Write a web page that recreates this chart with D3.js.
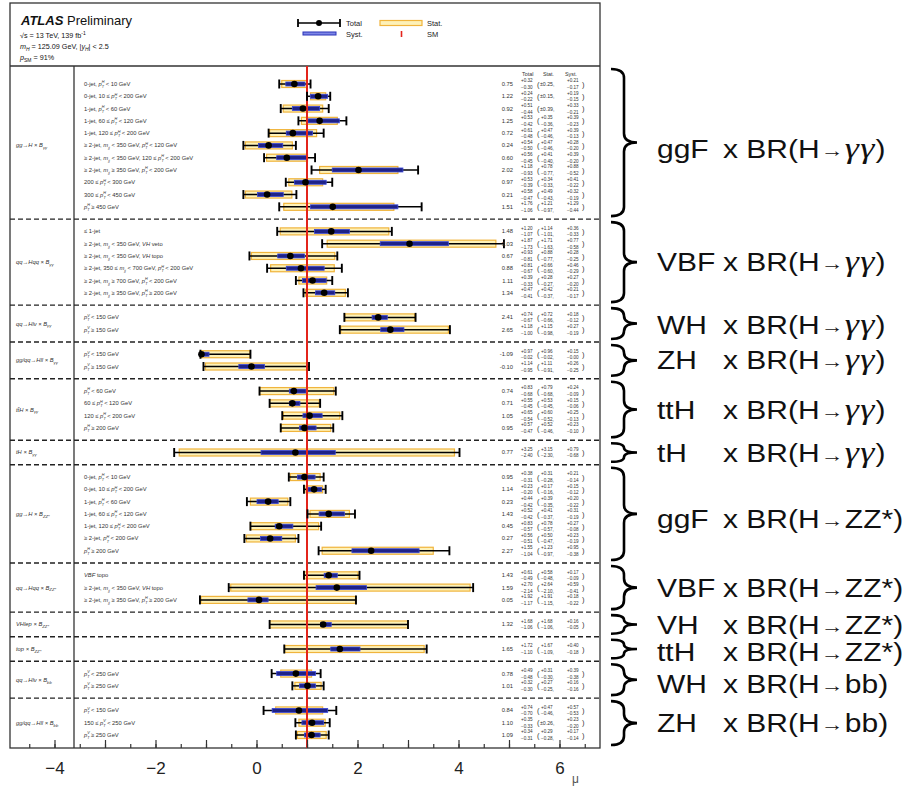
<!DOCTYPE html>
<html>
<head>
<meta charset="utf-8">
<script src="https://cdn.jsdelivr.net/npm/d3@7"></script>
<style>
body{margin:0;background:#fff;}
svg{display:block;}
</style>
</head>
<body>
<script>
// ATLAS STXS-like summary: mu per bin with total / stat / syst errors

// ---- data (right-hand column) ----
var groupSizes = [11, 6, 2, 2, 4, 1, 7, 3, 1, 1, 2, 3];
var groupProc = ["gg→H × B", "qq→Hqq × B", "qq→Hlν × B", "gg/qq→Hll × B", "tt̄H × B", "tH × B",
                 "gg→H × B", "qq→Hqq × B", "VHlep × B", "top × B", "qq→Hlν × B", "gg/qq→Hll × B"];
var groupDecay = ["γγ", "γγ", "γγ", "γγ", "γγ", "γγ", "ZZ*", "ZZ*", "ZZ*", "ZZ*", "bb̄", "bb̄"];
var braceProd = ["ggF", "VBF", "WH", "ZH", "ttH", "tH", "ggF", "VBF", "VH", "ttH", "WH", "ZH"];
var braceDecay = ["γγ", "γγ", "γγ", "γγ", "γγ", "γγ", "ZZ*", "ZZ*", "ZZ*", "ZZ*", "bb", "bb"];

var binLabels = [
  "0-jet, {pTH} < 10 GeV", "0-jet, 10 ≤ {pTH} < 200 GeV", "1-jet, {pTH} < 60 GeV",
  "1-jet, 60 ≤ {pTH} < 120 GeV", "1-jet, 120 ≤ {pTH} < 200 GeV",
  "≥ 2-jet, {mjj} < 350 GeV, {pTH} < 120 GeV", "≥ 2-jet, {mjj} < 350 GeV, 120 ≤ {pTH} < 200 GeV",
  "≥ 2-jet, {mjj} ≥ 350 GeV, {pTH} < 200 GeV", "200 ≤ {pTH} < 300 GeV", "300 ≤ {pTH} < 450 GeV",
  "{pTH} ≥ 450 GeV",
  "≤ 1-jet", "≥ 2-jet, {mjj} < 350 GeV, {VH} veto", "≥ 2-jet, {mjj} < 350 GeV, {VH} topo",
  "≥ 2-jet, 350 ≤ {mjj} < 700 GeV, {pTH} < 200 GeV", "≥ 2-jet, {mjj} ≥ 700 GeV, {pTH} < 200 GeV",
  "≥ 2-jet, {mjj} ≥ 350 GeV, {pTH} ≥ 200 GeV",
  "{pTV} < 150 GeV", "{pTV} ≥ 150 GeV",
  "{pTV} < 150 GeV", "{pTV} ≥ 150 GeV",
  "{pTH} < 60 GeV", "60 ≤ {pTH} < 120 GeV", "120 ≤ {pTH} < 200 GeV", "{pTH} ≥ 200 GeV",
  "",
  "0-jet, {pTH} < 10 GeV", "0-jet, 10 ≤ {pTH} < 200 GeV", "1-jet, {pTH} < 60 GeV",
  "1-jet, 60 ≤ {pTH} < 120 GeV", "1-jet, 120 ≤ {pTH} < 200 GeV", "≥ 2-jet, {pTH} < 200 GeV",
  "{pTH} ≥ 200 GeV",
  "{VBF} topo", "≥ 2-jet, {mjj} < 350 GeV, {VH} topo", "≥ 2-jet, {mjj} ≥ 350 GeV, {pTH} ≥ 200 GeV",
  "",
  "",
  "{pTV} < 250 GeV", "{pTV} ≥ 250 GeV",
  "{pTV} < 150 GeV", "150 ≤ {pTV} < 250 GeV", "{pTV} ≥ 250 GeV"
];

var mu = [0.75, 1.22, 0.92, 1.25, 0.72, 0.24, 0.60, 2.02, 0.97, 0.21, 1.51,
          1.48, 3.03, 0.67, 0.88, 1.11, 1.34,
          2.41, 2.65,
          -1.09, -0.10,
          0.74, 0.71, 1.05, 0.95,
          0.77,
          0.95, 1.14, 0.23, 1.43, 0.45, 0.27, 2.27,
          1.43, 1.59, 0.05,
          1.32,
          1.65,
          0.78, 1.01,
          0.84, 1.10, 1.09];
var totUp = [0.32, 0.24, 0.51, 0.53, 0.61, 0.54, 0.56, 1.18, 0.53, 0.58, 1.76,
             1.20, 1.87, 0.93, 0.81, 0.39, 0.47,
             0.74, 1.18,
             0.97, 1.14,
             0.83, 0.55, 0.65, 0.57,
             3.25,
             0.38, 0.23, 0.44, 0.52, 0.83, 0.56, 1.55,
             0.61, 2.70, 1.92,
             1.68,
             1.72,
             0.49, 0.32,
             0.74, 0.35, 0.34];
var totDn = [0.30, 0.22, 0.44, 0.42, 0.48, 0.50, 0.45, 0.93, 0.39, 0.47, 1.06,
             1.07, 1.73, 0.81, 0.67, 0.33, 0.41,
             0.67, 1.00,
             0.02, 0.95,
             0.68, 0.45, 0.54, 0.47,
             2.40,
             0.31, 0.20, 0.42, 0.42, 0.57, 0.51, 1.04,
             0.49, 2.14, 1.17,
             1.06,
             1.10,
             0.48, 0.30,
             0.70, 0.33, 0.31];
var statUp = [0.25, 0.15, 0.39, 0.35, 0.47, 0.47, 0.41, 0.78, 0.34, 0.49, 1.21,
              1.14, 1.71, 0.88, 0.66, 0.28, 0.42,
              0.72, 1.15,
              0.96, 1.11,
              0.79, 0.53, 0.60, 0.52,
              3.15,
              0.31, 0.17, 0.39, 0.41, 0.78, 0.50, 1.23,
              0.58, 2.64, 1.91,
              1.68,
              1.67,
              0.31, 0.27,
              0.47, 0.26, 0.29];
var statDn = [0.25, 0.15, 0.39, 0.36, 0.46, 0.46, 0.40, 0.77, 0.33, 0.43, 0.97,
              1.01, 1.63, 0.77, 0.60, 0.27, 0.37,
              0.66, 0.98,
              0.02, 0.91,
              0.68, 0.45, 0.52, 0.46,
              2.30,
              0.28, 0.16, 0.35, 0.37, 0.57, 0.47, 0.97,
              0.48, 2.10, 1.15,
              1.06,
              1.09,
              0.30, 0.25,
              0.46, 0.26, 0.28];
var systUp = [0.21, 0.19, 0.33, 0.39, 0.39, 0.28, 0.39, 0.88, 0.41, 0.32, 1.29,
              0.36, 0.77, 0.28, 0.46, 0.27, 0.21,
              0.18, 0.27,
              0.15, 0.26,
              0.24, 0.15, 0.25, 0.23,
              0.79,
              0.21, 0.15, 0.20, 0.31, 0.27, 0.23, 0.95,
              0.17, 0.59, 0.18,
              0.16,
              0.40,
              0.39, 0.16,
              0.57, 0.23, 0.17];
var systDn = [0.17, 0.15, 0.21, 0.23, 0.13, 0.20, 0.20, 0.52, 0.22, 0.19, 0.44,
              0.33, 0.58, 0.25, 0.29, 0.20, 0.17,
              0.12, 0.19,
              0.00, 0.25,
              0.09, 0.06, 0.13, 0.10,
              0.68,
              0.14, 0.12, 0.22, 0.19, 0.08, 0.19, 0.38,
              0.09, 0.41, 0.22,
              0.05,
              0.18,
              0.38, 0.16,
              0.53, 0.20, 0.14];
var xTicks = [-4, -2, 0, 2, 4, 6];

// ---- layout ----
var W = 911, H = 786;
var frameL = 10, frameR = 600, frameT = 3, headY = 66, axisY = 748, divX = 74;
var font = "'Liberation Sans', Arial, Helvetica, sans-serif";
var braceShift = [6, 0, 1, 0, 0, 1, 5, 0, 1, 3, 4, 0];

var svg = d3.select("body").append("svg")
    .attr("width", W)
    .attr("height", H)
    .style("font-family", font);

var x = d3.scaleLinear().domain([-4, 6]).range([54.5, 559.5]);

// one slot per bin, plus one slot between groups for the dashed line
var rowSlot = [], sepSlot = [];
var s = 0;
groupSizes.forEach(function(n, g){
  for (var i = 0; i < n; i++){ rowSlot.push(s); s++; }
  if (g < groupSizes.length - 1){ sepSlot.push(s); s++; }
});
var y = d3.scaleLinear().domain([0, s - 1]).range([84, 735]);

function groupTop(g){ return g === 0 ? headY : y(sepSlot[g - 1]); }
function groupBot(g){ return g === groupSizes.length - 1 ? axisY : y(sepSlot[g]); }
function groupMid(g){
  var first = d3.sum(groupSizes.slice(0, g)), last = first + groupSizes[g] - 1;
  return (y(rowSlot[first]) + y(rowSlot[last])) / 2;
}

// small rich-text helper for p_T^H, m_jj and italic words
function rich(sel, str, fs){
  var pend = 0;
  str.split(/(\{\w+\})/).forEach(function(p){
    if (!p) return;
    var m = p.match(/^\{(\w+)\}$/);
    if (!m){ sel.append("tspan").attr("dy", pend).text(p); pend = 0; return; }
    var k = m[1];
    if (k === "pTH" || k === "pTV"){
      sel.append("tspan").attr("dy", pend).style("font-style", "italic").text("p");
      sel.append("tspan").attr("font-size", fs * 0.65).attr("dy", -fs * 0.45)
        .style("font-style", "italic").text(k.charAt(2));
      sel.append("tspan").attr("font-size", fs * 0.65).attr("dx", -fs * 0.45).attr("dy", fs * 0.8)
        .style("font-style", "italic").text("T");
      pend = -fs * 0.35;
    } else if (k === "mjj"){
      sel.append("tspan").attr("dy", pend).style("font-style", "italic").text("m");
      sel.append("tspan").attr("font-size", fs * 0.65).attr("dy", fs * 0.35)
        .style("font-style", "italic").text("jj");
      pend = -fs * 0.35;
    } else {
      sel.append("tspan").attr("dy", pend).style("font-style", "italic").text(k);
      pend = 0;
    }
  });
}

// ---- frame ----
var frame = svg.append("g").attr("stroke", "#333").attr("stroke-width", 1.3).attr("fill", "none");
frame.append("rect").attr("x", frameL).attr("y", frameT)
    .attr("width", frameR - frameL).attr("height", axisY - frameT);
frame.append("line").attr("x1", frameL).attr("x2", frameR).attr("y1", headY).attr("y2", headY);
frame.append("line").attr("x1", divX).attr("x2", divX).attr("y1", headY).attr("y2", axisY);

svg.append("g").selectAll("line")
    .data(sepSlot)
    .enter()
    .append("line")
    .attr("x1", frameL).attr("x2", frameR)
    .attr("y1", function(d){ return y(d); })
    .attr("y2", function(d){ return y(d); })
    .attr("stroke", "#222")
    .attr("stroke-width", 1.4)
    .attr("stroke-dasharray", "5,3");

// ---- header ----
var hdr = svg.append("g").attr("fill", "#111");
var t1 = hdr.append("text").attr("x", 21).attr("y", 25).attr("font-size", 13);
t1.append("tspan").attr("font-weight", "bold").attr("font-style", "italic").text("ATLAS");
t1.append("tspan").text(" Preliminary");

var t2 = hdr.append("text").attr("x", 20).attr("y", 38).attr("font-size", 7.2);
t2.append("tspan").text("√s = 13 TeV, 139 fb");
t2.append("tspan").attr("font-size", 5).attr("dy", -3).text("-1");

var t3 = hdr.append("text").attr("x", 20).attr("y", 49).attr("font-size", 7.2);
t3.append("tspan").style("font-style", "italic").text("m");
t3.append("tspan").attr("font-size", 5).attr("dy", 2).style("font-style", "italic").text("H");
t3.append("tspan").attr("dy", -2).text(" = 125.09 GeV, |");
t3.append("tspan").style("font-style", "italic").text("y");
t3.append("tspan").attr("font-size", 5).attr("dy", 2).style("font-style", "italic").text("H");
t3.append("tspan").attr("dy", -2).text("| < 2.5");

var t4 = hdr.append("text").attr("x", 20).attr("y", 60).attr("font-size", 7.2);
t4.append("tspan").style("font-style", "italic").text("p");
t4.append("tspan").attr("font-size", 5).attr("dy", 2).text("SM");
t4.append("tspan").attr("dy", -2).text(" = 91%");

// legend
var leg = svg.append("g");
leg.append("line").attr("x1", 298).attr("x2", 340).attr("y1", 23).attr("y2", 23)
    .attr("stroke", "#000").attr("stroke-width", 1.5);
[298, 340].forEach(function(cx){
  leg.append("line").attr("x1", cx).attr("x2", cx).attr("y1", 19).attr("y2", 27)
      .attr("stroke", "#000").attr("stroke-width", 1.8);
});
leg.append("circle").attr("cx", 319).attr("cy", 23).attr("r", 3).attr("fill", "#000");
leg.append("rect").attr("x", 380).attr("y", 20.5).attr("width", 42).attr("height", 5)
    .attr("fill", "#fdf1b8").attr("stroke", "#f0b43c").attr("stroke-width", 1.2);
leg.append("rect").attr("x", 303).attr("y", 32).attr("width", 33).attr("height", 3)
    .attr("fill", "#7d86e6").attr("stroke", "#2a33b8").attr("stroke-width", 1);
leg.append("line").attr("x1", 401.5).attr("x2", 401.5).attr("y1", 31).attr("y2", 37)
    .attr("stroke", "#e3241b").attr("stroke-width", 1.6);
var legTxt = [["Total", 346, 26], ["Stat.", 427, 26], ["Syst.", 346, 37], ["SM", 427, 37]];
leg.selectAll("text").data(legTxt).enter().append("text")
    .attr("x", function(d){ return d[1]; })
    .attr("y", function(d){ return d[2]; })
    .attr("font-size", 7.5)
    .attr("fill", "#222")
    .text(function(d){ return d[0]; });

// ---- left labels ----
var lab = svg.append("g").attr("fill", "#333");
groupProc.forEach(function(p, g){
  var t = lab.append("text").attr("x", 16).attr("y", groupMid(g) + 2).attr("font-size", 5.8)
      .style("font-style", "italic");
  t.append("tspan").text(p);
  t.append("tspan").attr("font-size", 4.2).attr("dy", 1.8).text(groupDecay[g]);
});
binLabels.forEach(function(l, i){
  if (!l) return;
  var t = lab.append("text").attr("x", 84).attr("y", y(rowSlot[i]) + 2).attr("font-size", 5.8);
  rich(t, l, 5.8);
});

// ---- bars ----
var rows = d3.range(mu.length);
var plot = svg.append("g");

plot.selectAll(".stat")
    .data(rows)
    .enter()
    .append("rect")
    .attr("class", "stat")
    .attr("x", function(i){ return x(mu[i] - statDn[i]); })
    .attr("width", function(i){ return x(mu[i] + statUp[i]) - x(mu[i] - statDn[i]); })
    .attr("y", function(i){ return y(rowSlot[i]) - 3.5; })
    .attr("height", 7)
    .attr("fill", "#fdf1b8")
    .attr("stroke", "#f0b43c")
    .attr("stroke-width", 1.2);

plot.selectAll(".tot")
    .data(rows)
    .enter()
    .append("line")
    .attr("class", "tot")
    .attr("x1", function(i){ return x(mu[i] - totDn[i]); })
    .attr("x2", function(i){ return x(mu[i] + totUp[i]); })
    .attr("y1", function(i){ return y(rowSlot[i]); })
    .attr("y2", function(i){ return y(rowSlot[i]); })
    .attr("stroke", "#000")
    .attr("stroke-width", 1.5);

plot.selectAll(".syst")
    .data(rows)
    .enter()
    .append("rect")
    .attr("class", "syst")
    .attr("x", function(i){ return x(mu[i] - systDn[i]); })
    .attr("width", function(i){ return Math.max(0.5, x(mu[i] + systUp[i]) - x(mu[i] - systDn[i])); })
    .attr("y", function(i){ return y(rowSlot[i]) - 2; })
    .attr("height", 4)
    .attr("fill", "#1f2288")
    .attr("stroke", "#3a48d6")
    .attr("stroke-width", 0.8);

// SM line
svg.append("line")
    .attr("x1", x(1)).attr("x2", x(1))
    .attr("y1", headY).attr("y2", axisY)
    .attr("stroke", "#e3241b")
    .attr("stroke-width", 2);

var caps = [];
rows.forEach(function(i){
  caps.push({i: i, v: mu[i] - totDn[i]});
  caps.push({i: i, v: mu[i] + totUp[i]});
});
svg.append("g").selectAll("line")
    .data(caps)
    .enter()
    .append("line")
    .attr("x1", function(d){ return x(d.v); })
    .attr("x2", function(d){ return x(d.v); })
    .attr("y1", function(d){ return y(rowSlot[d.i]) - 4.5; })
    .attr("y2", function(d){ return y(rowSlot[d.i]) + 4.5; })
    .attr("stroke", "#000")
    .attr("stroke-width", 1.9);

svg.append("g").selectAll("circle")
    .data(rows)
    .enter()
    .append("circle")
    .attr("cx", function(i){ return x(mu[i]); })
    .attr("cy", function(i){ return y(rowSlot[i]); })
    .attr("r", 3.3)
    .attr("fill", "#000");

// ---- value column ----
var f2 = d3.format(".2f");
var vals = svg.append("g").attr("fill", "#333");
function supsub(g, x0, yy, up, dn){
  g.append("text").attr("x", x0).attr("y", yy - 1.6).attr("font-size", 4.6).text(up);
  g.append("text").attr("x", x0).attr("y", yy + 5).attr("font-size", 4.6).text(dn);
}
var hd = [["Total", 522], ["Stat.", 543], ["Syst.", 565]];
hd.forEach(function(d){
  vals.append("text").attr("x", d[1]).attr("y", 76).attr("font-size", 5.4).text(d[0]);
});
rows.forEach(function(i){
  var yy = y(rowSlot[i]);
  vals.append("text").attr("x", 513).attr("y", yy + 2).attr("text-anchor", "end")
      .attr("font-size", 5.8).text(f2(mu[i]).replace("−", "-"));
  supsub(vals, 521, yy, "+" + f2(totUp[i]), "−" + f2(totDn[i]));
  vals.append("text").attr("x", 537).attr("y", yy + 2.6).attr("font-size", 7.5).text("(");
  if (statUp[i] === statDn[i]){
    vals.append("text").attr("x", 540).attr("y", yy + 2).attr("font-size", 5.2)
        .text("±" + f2(statUp[i]) + ",");
  } else {
    supsub(vals, 541, yy, "+" + f2(statUp[i]), "−" + f2(statDn[i]) + ",");
  }
  supsub(vals, 567, yy, "+" + f2(systUp[i]), "−" + f2(systDn[i]));
  vals.append("text").attr("x", 582).attr("y", yy + 2.6).attr("font-size", 7.5).text(")");
});

// ---- x axis ----
var axG = svg.append("g").attr("transform", "translate(0," + axisY + ")");
axG.append("g").call(d3.axisTop(x).tickValues(d3.range(-4.5, 6.6, 0.5)).tickSize(4).tickFormat(""));
axG.append("g").call(d3.axisTop(x).tickValues(d3.range(-4, 7, 1)).tickSize(8).tickFormat(""));
axG.append("g").call(d3.axisBottom(x).tickValues(xTicks).tickSize(0).tickPadding(14)
    .tickFormat(d3.format("d")));
axG.selectAll(".domain").remove();
axG.selectAll(".tick line").attr("stroke", "#333").attr("stroke-width", 1.2);
axG.selectAll("text").attr("font-size", 17).attr("font-family", font).attr("fill", "#222");
axG.selectAll("g").attr("font-family", font);

svg.append("text").attr("x", 572).attr("y", 783).attr("font-size", 12).attr("fill", "#555").text("μ");

// ---- right-hand braces and labels ----
function bracePath(x0, y0, y1, w){
  var a = w / 2, m = (y0 + y1) / 2, r = Math.min(9, (y1 - y0) / 4);
  return "M" + x0 + "," + y0 +
    " Q" + (x0 + a) + "," + y0 + " " + (x0 + a) + "," + (y0 + r) +
    " L" + (x0 + a) + "," + (m - r) +
    " Q" + (x0 + a) + "," + m + " " + (x0 + w) + "," + m +
    " Q" + (x0 + a) + "," + m + " " + (x0 + a) + "," + (m + r) +
    " L" + (x0 + a) + "," + (y1 - r) +
    " Q" + (x0 + a) + "," + y1 + " " + x0 + "," + y1;
}
var br = svg.append("g");
var sx = 1.2;
groupSizes.forEach(function(n, g){
  var top = groupTop(g) + 3, bot = groupBot(g) - 3;
  br.append("path")
      .attr("d", bracePath(611, top, bot, 26))
      .attr("fill", "none")
      .attr("stroke", "#000")
      .attr("stroke-width", 2.6);
  var ty = (groupTop(g) + groupBot(g)) / 2 + braceShift[g];
  var t = br.append("text")
      .attr("transform", "translate(657," + (ty + 9) + ") scale(" + sx + ",1)")
      .attr("font-size", 25)
      .attr("fill", "#111");
  t.append("tspan").attr("x", 0).text(braceProd[g]);
  t.append("tspan").attr("x", (723 - 657) / sx).text("x BR(H");
  t.append("tspan").attr("font-size", 19).attr("dx", 1).attr("dy", -1).text("→");
  if (braceDecay[g] === "γγ"){
    t.append("tspan").attr("dx", 1).attr("dy", 1).attr("font-family", "'Liberation Serif', serif")
        .attr("font-size", 30).attr("letter-spacing", 1)
        .style("font-style", "italic").text("γγ");
  } else {
    t.append("tspan").attr("dx", 1).attr("dy", 1).text(braceDecay[g]);
  }
  t.append("tspan").text(")");
});
</script>
</body>
</html>
